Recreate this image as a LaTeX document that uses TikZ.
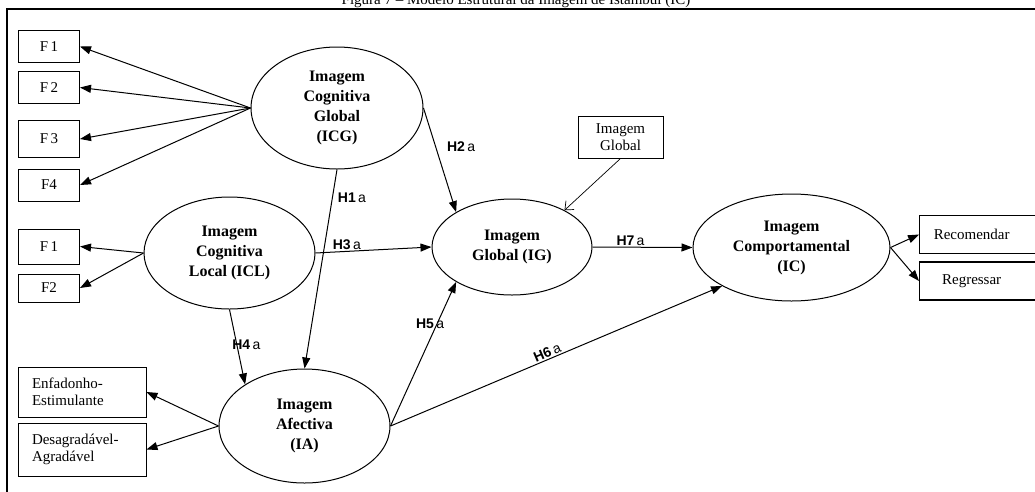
\documentclass[tikz,border=0pt]{standalone}
\usepackage{fontspec}
\setmainfont{Liberation Serif}
\newfontfamily\hypfont{Liberation Sans}
\usetikzlibrary{shapes.geometric,arrows.meta,positioning}

\begin{document}
\begin{tikzpicture}[x=1pt, y=-1pt,
    latent/.style={draw, ellipse, line width=1pt, inner sep=0pt, align=center, font=\fontsize{16}{20}\selectfont\bfseries},
    obs/.style={draw, rectangle, line width=1pt, inner sep=0pt, align=center, font=\fontsize{15}{17}\selectfont},
    outbox/.style={draw, rectangle, line width=1.3pt, inner sep=0pt, anchor=west, minimum width=140pt, minimum height=38pt, font=\fontsize{15}{17}\selectfont},
    link/.style={-{Triangle[length=11pt,width=8pt]}, line width=1pt},
    hyp/.style={font=\fontsize{14}{16}\selectfont\hypfont, inner sep=1pt}]
  \useasboundingbox (0,0) rectangle (1035,491);

  % title and frame
  \node[anchor=base, font=\fontsize{15}{17}\selectfont] (title) at (516,4.5) {Figura 7 -- Modelo Estrutural da Imagem de Istambul (IC)};
  \draw[line width=1.2pt] (7,9) rectangle (1050,510);

  % constructs
  \node[latent, minimum width=172pt, minimum height=122pt] (icg) at (337,108) {Imagem\\Cognitiva\\Global\\(ICG)};
  \node[latent, minimum width=171pt, minimum height=112pt] (icl) at (229.5,253) {Imagem\\Cognitiva\\Local (ICL)};
  \node[latent, minimum width=160pt, minimum height=96pt] (ig) at (512,247) {Imagem\\Global (IG)};
  \node[latent, minimum width=197pt, minimum height=107pt] (ic) at (791.5,247.5) {Imagem\\Comportamental\\(IC)};
  \node[latent, minimum width=171pt, minimum height=114pt] (ia) at (304.5,426) {Imagem\\Afectiva\\(IA)};

  % indicators
  \node[obs, minimum width=61pt, minimum height=32pt] (f1) at (49,46.5) {F\,1};
  \node[obs, minimum width=61pt, minimum height=32pt] (f2) at (49,87.5) {F\,2};
  \node[obs, minimum width=61pt, minimum height=37pt] (f3) at (49,139) {F\,3};
  \node[obs, minimum width=61pt, minimum height=32pt] (f4) at (49,185) {F4};
  \node[obs, minimum width=61pt, minimum height=35pt] (lf1) at (49,246.5) {F\,1};
  \node[obs, minimum width=61pt, minimum height=28pt] (lf2) at (49,288) {F2};
  \node[obs, align=left, text width=100pt, inner xsep=14pt, minimum height=50pt] (enf) at (82,392) {Enfadonho-\\Estimulante};
  \node[obs, align=left, text width=100pt, inner xsep=14pt, minimum height=53pt] (des) at (82,449.5) {Desagradável-\\Agradável};
  \node[obs, minimum width=85pt, minimum height=42pt] (imgb) at (620.5,137) {Imagem\\Global};
  \node[outbox] (rec) at (919,234.5) {Recomendar\hspace*{36pt}};
  \node[outbox] (reg) at (919,281) {Regressar\hspace*{36pt}};

  % measurement arrows
  \foreach \f in {f1,f2,f3,f4} \draw[link] (icg.west) -- (\f.east);
  \foreach \f in {lf1,lf2} \draw[link] (icl.west) -- (\f.east);
  \foreach \f in {enf,des} \draw[link] (ia.west) -- (\f.east);
  \draw[link] (ic.east) -- (rec.west);
  \draw[link] (ic.east) -- (reg.west);
  \draw[-{Straight Barb[length=7pt,width=12pt]}, line width=0.7pt] (imgb.south) -- (ig.35);

  % hypotheses
  \draw[link] (icg.south) -- (ia.north) node[hyp, pos=0.14, right=4pt] {\textbf{H1}\,a};
  \draw[link] (icg.east) -- (ig.148) node[hyp, pos=0.37, right=10pt] {\textbf{H2}\,a};
  \draw[link] (icl.east) -- (ig.west) node[hyp, pos=0.27, above, inner sep=0pt, yshift=1pt] {\textbf{H3}\,a};
  \draw[link] (icl.south) -- (ia.145) node[hyp, pos=0.47, right=-6pt] {\textbf{H4}\,a};
  \draw[link] (ia.east) -- (ig.212) node[hyp, pos=0.71, xshift=-7pt] {\textbf{H5}\,a};
  \draw[link] (ia.east) -- (ic.209) node[hyp, pos=0.48, sloped, above] {\textbf{H6}\,a};
  \draw[link] (ig.east) -- (ic.west) node[hyp, pos=0.38, above] {\textbf{H7}\,a};
\end{tikzpicture}
\end{document}
